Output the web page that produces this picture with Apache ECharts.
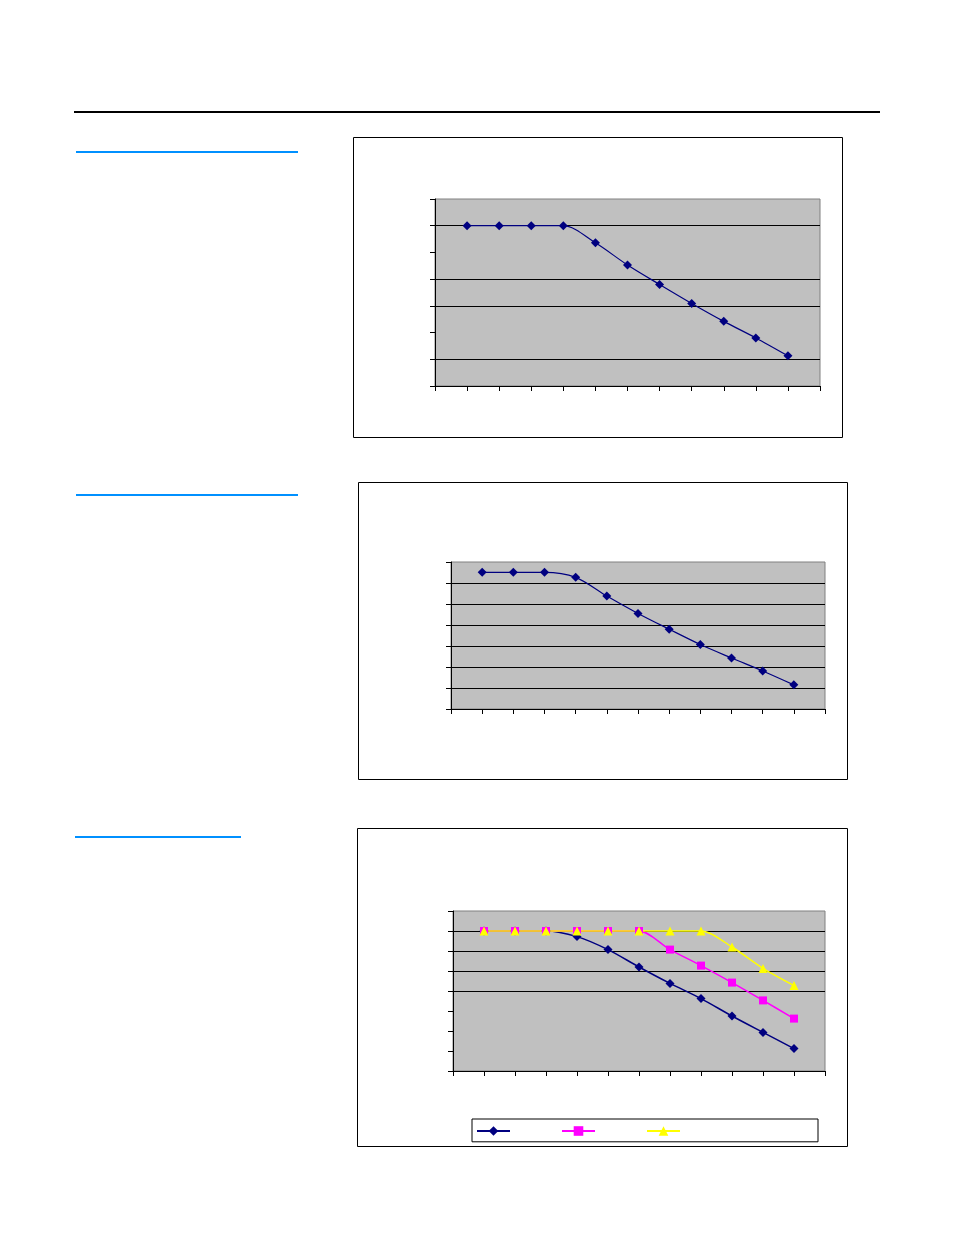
<!DOCTYPE html>
<html>
<head>
<meta charset="utf-8">
<script src="https://cdn.jsdelivr.net/npm/echarts@6/dist/echarts.min.js"></script>
<style>
  html, body { margin: 0; padding: 0; background: #fff; }
  #main { width: 954px; height: 1235px; }
</style>
</head>
<body>
<div id="main"></div>
<script>
// category positions (x axis runs 0..12, points sit on ticks 1..11)
var xs = [1, 2, 3, 4, 5, 6, 7, 8, 9, 10, 11];

// chart 1
var top1 = [6, 6, 6, 6, 5.36, 4.53, 3.8, 3.09, 2.42, 1.8, 1.13];
// chart 2
var top2 = [6.51, 6.51, 6.51, 6.27, 5.38, 4.55, 3.8, 3.07, 2.43, 1.81, 1.15];
// chart 3, three series
var s3a = [7, 7, 7, 6.72, 6.07, 5.2, 4.38, 3.62, 2.75, 1.93, 1.12];
var s3b = [7, 7, 7, 7, 7, 7, 6.07, 5.27, 4.42, 3.53, 2.62];
var s3c = [7, 7, 7, 7, 7, 7, 7, 7, 6.2, 5.13, 4.27];
var names3 = ['Series1', 'Series2', 'Series3'];

var yMax1 = 7, yMax2 = 7, yMax3 = 8;

function pairs(vals) {
    return vals.map(function (v, i) { return [xs[i], v]; });
}

var K = '#000', T = 'rgba(0,0,0,0)';

function xAxisFor(idx) {
    return {
        type: 'value', gridIndex: idx, min: 0, max: 12, interval: 1,
        axisLine: { lineStyle: { color: '#000', width: 1 } },
        axisTick: { show: true, length: 5, lineStyle: { color: '#000' } },
        axisLabel: { show: false },
        splitLine: { show: false }
    };
}
function yAxisFor(idx, max, colors) {
    return {
        type: 'value', gridIndex: idx, min: 0, max: max, interval: 1,
        axisLine: { show: true, lineStyle: { color: '#000', width: 1 } },
        axisTick: { show: true, length: 5, lineStyle: { color: '#000' } },
        axisLabel: { show: false },
        splitLine: { show: true, lineStyle: { color: colors, width: 1 } }
    };
}
function lineSeries(name, idx, vals, color, symbol, size, width) {
    return {
        name: name, type: 'line', xAxisIndex: idx, yAxisIndex: idx,
        data: pairs(vals), smooth: 0.3,
        symbol: symbol, symbolSize: size,
        lineStyle: { color: color, width: width },
        itemStyle: { color: color },
        animation: false
    };
}

var chart = echarts.init(document.getElementById('main'));
var option = {
    animation: false,
    grid: [
        { left: 435, top: 199, width: 385, height: 187, show: true, backgroundColor: '#c0c0c0', borderColor: '#808080', borderWidth: 1 },
        { left: 451, top: 562, width: 374, height: 147, show: true, backgroundColor: '#c0c0c0', borderColor: '#808080', borderWidth: 1 },
        { left: 453, top: 911, width: 372, height: 160, show: true, backgroundColor: '#c0c0c0', borderColor: '#808080', borderWidth: 1 }
    ],
    xAxis: [xAxisFor(0), xAxisFor(1), xAxisFor(2)],
    yAxis: [
        yAxisFor(0, yMax1, [K, K, T, K, K, T, K, T]),
        yAxisFor(1, yMax2, [K, K, K, K, K, K, K, T]),
        yAxisFor(2, yMax3, [T, T, T, T, K, K, K, K, T])
    ],
    legend: {
        data: names3,
        left: 472, top: 1119,
        padding: [6, 137, 6, 4],
        borderColor: '#000', borderWidth: 1,
        itemWidth: 33, itemHeight: 12, itemGap: 50,
        formatter: function () { return ''; }
    },
    series: [
        lineSeries('chart1', 0, top1, '#000080', 'diamond', 9, 1.2),
        lineSeries('chart2', 1, top2, '#000080', 'diamond', 9, 1.2),
        lineSeries(names3[0], 2, s3a, '#000080', 'diamond', 9, 1.5),
        lineSeries(names3[1], 2, s3b, '#ff00ff', 'rect', 8, 1.5),
        lineSeries(names3[2], 2, s3c, '#ffff00', 'triangle', 9, 1.5)
    ],
    graphic: [
        // page rule and section underlines
        { type: 'rect', shape: { x: 74, y: 111, width: 806, height: 2 }, style: { fill: '#000' } },
        { type: 'rect', shape: { x: 76, y: 151, width: 222, height: 2 }, style: { fill: '#0090ff' } },
        { type: 'rect', shape: { x: 76, y: 494, width: 222, height: 2 }, style: { fill: '#0090ff' } },
        { type: 'rect', shape: { x: 75, y: 836, width: 166, height: 2 }, style: { fill: '#0090ff' } },
        // chart frames
        { type: 'rect', z: -1, shape: { x: 353.5, y: 137.5, width: 489, height: 300 }, style: { fill: 'none', stroke: '#000', lineWidth: 1 } },
        { type: 'rect', z: -1, shape: { x: 358.5, y: 482.5, width: 489, height: 297 }, style: { fill: 'none', stroke: '#000', lineWidth: 1 } },
        { type: 'rect', z: -1, shape: { x: 357.5, y: 828.5, width: 490, height: 318 }, style: { fill: 'none', stroke: '#000', lineWidth: 1 } }
    ]
};
chart.setOption(option);
</script>
</body>
</html>
